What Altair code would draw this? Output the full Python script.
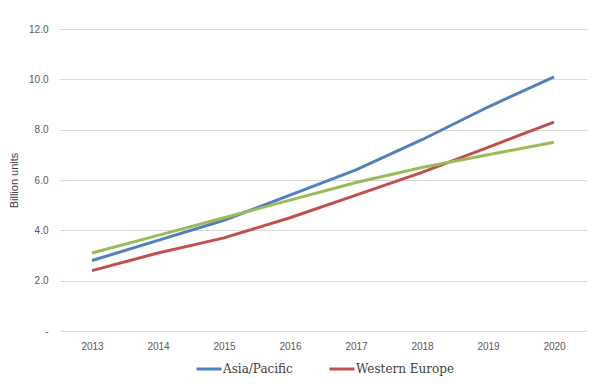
import altair as alt
import pandas as pd

years = ["2013", "2014", "2015", "2016", "2017", "2018", "2019", "2020"]
asia_pacific = [2.8, 3.6, 4.4, 5.4, 6.4, 7.6, 8.9, 10.1]
western_europe = [2.4, 3.1, 3.7, 4.5, 5.4, 6.3, 7.3, 8.3]
north_america = [3.1, 3.8, 4.5, 5.2, 5.9, 6.5, 7.0, 7.5]

series_names = ["Asia/Pacific", "Western Europe", "North America"]
series_values = [asia_pacific, western_europe, north_america]
series_colors = ["#4F81BD", "#C0504D", "#9BBB59"]

rows = []
for name, vals in zip(series_names, series_values):
    for y, v in zip(years, vals):
        rows.append({"Year": y, "Series": name, "Value": v})
df = pd.DataFrame(rows)

lines = alt.Chart(df).mark_line(strokeWidth=3, strokeCap="butt").encode(
    x=alt.X("Year:O", sort=years, title=None,
            scale=alt.Scale(type="point", padding=0.5),
            axis=alt.Axis(labelAngle=0, ticks=False, domain=False, grid=False,
                          labelFont="Liberation Sans", labelFontSize=10,
                          labelColor="#595959", labelPadding=10)),
    y=alt.Y("Value:Q", title="Billion units",
            scale=alt.Scale(domain=[0, 12], nice=False),
            axis=alt.Axis(values=[0, 2, 4, 6, 8, 10, 12],
                          labelExpr="datum.value == 0 ? '-\u00a0\u00a0\u00a0' : format(datum.value, '.1f')",
                          ticks=False, domain=False, grid=True,
                          gridColor="#D9D9D9", gridWidth=1,
                          labelFont="Liberation Sans", labelFontSize=10,
                          labelColor="#595959", labelPadding=11,
                          titleFont="Liberation Sans", titleFontSize=11,
                          titleFontWeight="normal", titleColor="#404040",
                          titlePadding=9)),
    color=alt.Color("Series:N",
                    scale=alt.Scale(domain=series_names, range=series_colors),
                    legend=alt.Legend(title=None, orient="none",
                                      legendX=136, legendY=326,
                                      direction="horizontal",
                                      values=["Asia/Pacific", "Western Europe"],
                                      symbolType="stroke", symbolSize=625,
                                      symbolStrokeWidth=3, labelOffset=0,
                                      labelFont="DejaVu Serif", labelFontSize=12,
                                      labelColor="#404040", columnPadding=30,
                                      padding=0)),
)

chart = lines.properties(
    width=528, height=302,
    padding={"left": 51, "top": 21, "right": 18, "bottom": 52},
    autosize=alt.AutoSizeParams(type="none"),
).configure_view(stroke=None)

chart.save("out.html", embed_options={"renderer": "svg", "actions": False})
